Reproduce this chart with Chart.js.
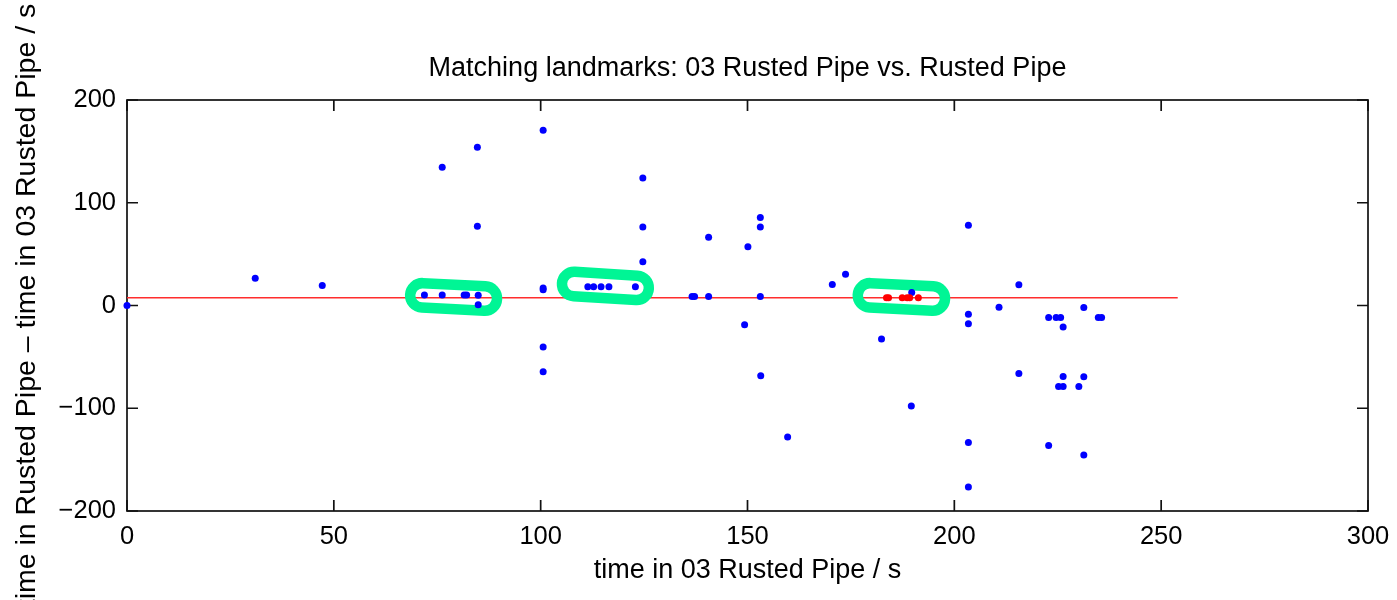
<!DOCTYPE html>
<html lang="en">
<head>
  <meta charset="UTF-8">
  <title>Matching landmarks</title>
  <script src="https://cdn.jsdelivr.net/npm/chart.js"></script>
  <style>
    html, body { margin: 0; padding: 0; background: #fff; }
    #wrap { width: 1397px; height: 600px; }
  </style>
</head>
<body>
  <div id="wrap"><canvas id="landmarks" width="1397" height="600"></canvas></div>

  <script>
    // all landmark pairs: time in the query track vs. time offset to the reference
    const candidateTimes = [
      0, 31.0, 47.2, 71.9, 76.2, 76.2, 81.5, 82.1, 84.7, 84.7, 84.9, 84.9,
      100.6, 100.6, 100.6, 100.6, 100.6, 111.4, 112.8, 114.6, 116.5, 122.9,
      124.7, 124.7, 124.7, 136.6, 137.2, 140.6, 140.6, 149.3, 150.1, 153.1,
      153.1, 153.1, 153.2, 159.7, 170.5, 173.7, 182.4, 189.6, 189.7, 203.4,
      203.4, 203.4, 203.4, 203.4, 210.8, 215.6, 215.6, 222.8, 222.8, 224.6,
      225.2, 225.7, 226.3, 226.3, 226.3, 230.1, 231.3, 231.3, 231.3, 234.8, 235.6
    ];
    const candidateOffsets = [
      0, 26.6, 19.5, 10.1, 10.1, 134.6, 10.1, 10.1, 154, 77.2, 10, 0.7,
      170.6, 17, 15.3, -40.5, -64.5, 18.2, 18.2, 18.2, 18.2, 18.2,
      124.2, 76.3, 42.5, 8.8, 8.8, 66.5, 8.8, -18.8, 57.1, 85.6,
      76.3, 8.8, -68.4, -128, 20.4, 30.5, -32.7, -97.9, 12.7, 78.2,
      -8.4, -17.8, -133.3, -176.7, -1.8, 20.2, -66.1, -11.7, -136.2, -11.7,
      -78.8, -11.7, -21, -69, -78.8, -78.8, -1.9, -69.4, -145.5, -11.7, -11.7
    ];

    // pairs that agree with the best offset
    const inlierTimes = [183.6, 184.1, 187.4, 188.6, 189.2, 191.3];
    const inlierOffsets = [7.5, 7.5, 7.5, 7.5, 7.5, 7.5];

    // best offset line
    const fitTimes = [0, 254];
    const fitOffsets = [7.5, 7.5];

    // highlighted clusters (centre line of each outline, in axis units)
    const clusterStartX = [71.4, 108.1, 179.6];
    const clusterStartY = [9.9, 20.9, 9.9];
    const clusterEndX = [86.5, 123.2, 194.8];
    const clusterEndY = [6.8, 17.2, 6.8];

    const xTicks = [0, 50, 100, 150, 200, 250, 300];
    const yTicks = [-200, -100, 0, 100, 200];

    const FONT = '"Liberation Sans", Arial, Helvetica, sans-serif';

    const toPoints = (xs, ys) => xs.map((x, i) => ({ x: x, y: ys[i] }));

    // box around the plot with inward tick marks
    const frame = {
      id: 'frame',
      beforeDatasetsDraw(chart) {
        const { ctx, chartArea: a, scales: { x, y } } = chart;
        const tl = 11;
        ctx.save();
        ctx.strokeStyle = '#111';
        ctx.lineWidth = 1.7;
        ctx.strokeRect(a.left, a.top, a.right - a.left, a.bottom - a.top);
        ctx.beginPath();
        xTicks.forEach(v => {
          const px = x.getPixelForValue(v);
          ctx.moveTo(px, a.bottom); ctx.lineTo(px, a.bottom - tl);
          ctx.moveTo(px, a.top); ctx.lineTo(px, a.top + tl);
        });
        yTicks.forEach(v => {
          const py = y.getPixelForValue(v);
          ctx.moveTo(a.left, py); ctx.lineTo(a.left + tl, py);
          ctx.moveTo(a.right, py); ctx.lineTo(a.right - tl, py);
        });
        ctx.stroke();
        ctx.restore();
      },
      // green outlines go above the fit line but under the points
      beforeDatasetDraw(chart, args) {
        if (args.index !== 1) return;
        const { ctx, scales: { x, y } } = chart;
        const r = 12.2;
        ctx.save();
        ctx.strokeStyle = '#00f595';
        ctx.lineWidth = 10.5;
        clusterStartX.forEach((sx, i) => {
          const x1 = x.getPixelForValue(sx), y1 = y.getPixelForValue(clusterStartY[i]);
          const x2 = x.getPixelForValue(clusterEndX[i]), y2 = y.getPixelForValue(clusterEndY[i]);
          const t = Math.atan2(y2 - y1, x2 - x1);
          ctx.beginPath();
          ctx.arc(x2, y2, r, t - Math.PI / 2, t + Math.PI / 2);
          ctx.arc(x1, y1, r, t + Math.PI / 2, t + Math.PI * 1.5);
          ctx.closePath();
          ctx.stroke();
        });
        ctx.restore();
      }
    };

    new Chart(document.getElementById('landmarks'), {
      type: 'scatter',
      data: {
        datasets: [
          {
            type: 'line',
            data: toPoints(fitTimes, fitOffsets),
            borderColor: 'rgb(255,45,45)',
            borderWidth: 1.6,
            pointRadius: 0,
            order: 3
          },
          {
            data: toPoints(candidateTimes, candidateOffsets),
            backgroundColor: '#0000ff',
            borderWidth: 0,
            pointRadius: 3.5,
            clip: false,
            order: 2
          },
          {
            data: toPoints(inlierTimes, inlierOffsets),
            backgroundColor: '#ff0000',
            borderWidth: 0,
            pointRadius: 3.5,
            order: 1
          }
        ]
      },
      options: {
        responsive: false,
        animation: false,
        devicePixelRatio: 1,
        layout: { padding: { left: 0, right: 29, top: 0, bottom: 0 } },
        plugins: {
          legend: { display: false },
          tooltip: { enabled: false },
          title: {
            display: true,
            fullSize: false,
            text: 'Matching landmarks: 03 Rusted Pipe vs. Rusted Pipe',
            color: '#000',
            font: { family: FONT, size: 27, weight: 'normal', lineHeight: 1.2 },
            padding: { top: 52, bottom: 15.6 }
          }
        },
        scales: {
          x: {
            type: 'linear',
            min: 0, max: 300,
            grid: { display: false },
            border: { display: false },
            afterBuildTicks: s => { s.ticks = xTicks.map(v => ({ value: v })); },
            afterFit: s => { s.height = 89; },
            ticks: { color: '#000', padding: 3, maxRotation: 0, font: { family: FONT, size: 25.5 } },
            title: {
              display: true,
              text: 'time in 03 Rusted Pipe / s',
              color: '#000',
              font: { family: FONT, size: 27, lineHeight: 1.2 },
              padding: { top: 0, bottom: 13.5 }
            }
          },
          y: {
            type: 'linear',
            min: -200, max: 200,
            grid: { display: false },
            border: { display: false },
            afterBuildTicks: s => { s.ticks = yTicks.map(v => ({ value: v })); },
            afterFit: s => { s.width = 127; },
            ticks: {
              color: '#000', padding: 3, font: { family: FONT, size: 25.5 },
              callback: v => String(v).replace('-', '\u2212')
            },
            title: {
              display: true,
              text: 'time in Rusted Pipe \u2013 time in 03 Rusted Pipe / s',
              color: '#000',
              font: { family: FONT, size: 28.5, lineHeight: 1.2 },
              padding: { top: 10, bottom: 0 }
            }
          }
        }
      },
      plugins: [frame]
    });
  </script>
</body>
</html>
